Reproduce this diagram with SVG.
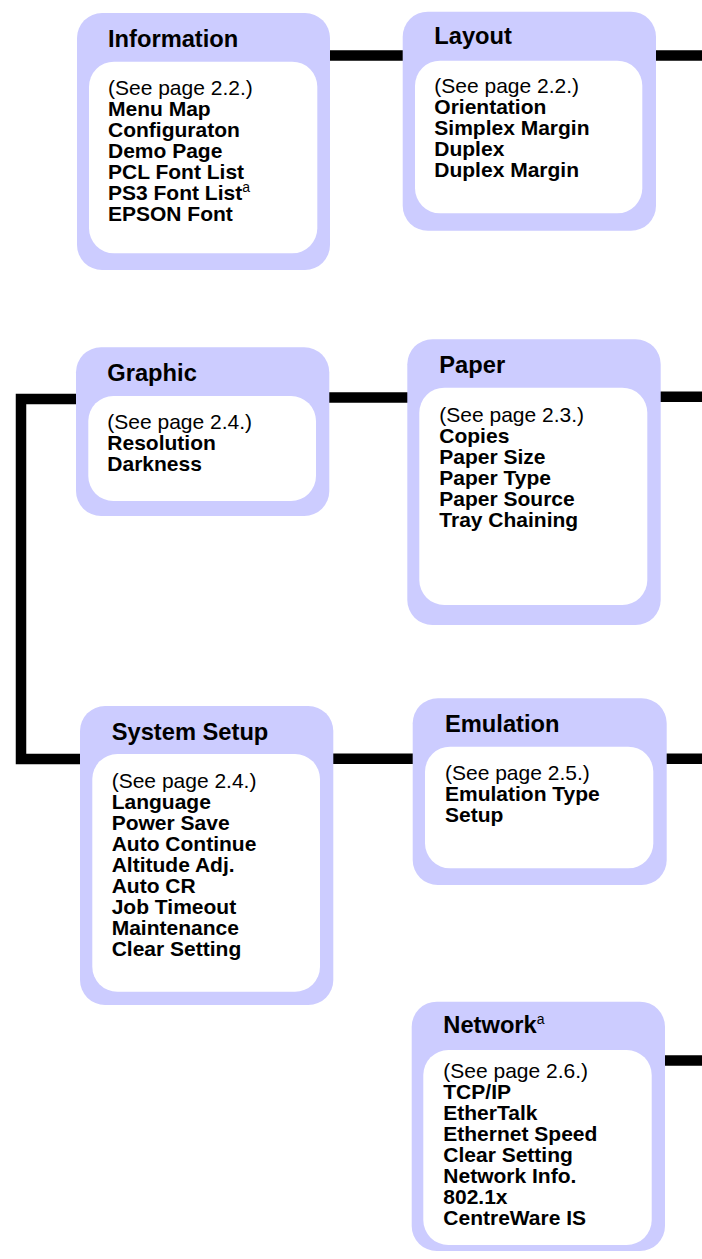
<svg xmlns="http://www.w3.org/2000/svg" width="702" height="1259" viewBox="0 0 702 1259">
<style>
.outer{fill:#CCCCFF}
.inner{fill:#FFFFFF}
.title{font-family:"Liberation Sans",Arial,sans-serif;font-weight:bold;font-size:23.7px;fill:#000}
.ref{font-family:"Liberation Sans",Arial,sans-serif;font-size:21px;fill:#000}
.item{font-family:"Liberation Sans",Arial,sans-serif;font-weight:bold;font-size:21px;fill:#000}
.sup{font-family:"Liberation Sans",Arial,sans-serif;font-weight:normal;font-size:14px;fill:#000}
.conn{fill:none;stroke:#000;stroke-width:10.5;stroke-linejoin:miter;stroke-linecap:butt}
</style>
<rect width="702" height="1259" fill="#FFFFFF"/>
<g id="connectors">
<line class="conn" x1="328" y1="55.5" x2="405" y2="55.5"/>
<line class="conn" x1="654" y1="55.5" x2="702" y2="55.5"/>
<path class="conn" d="M78,399 H21 V759 H82"/>
<line class="conn" x1="327" y1="397.5" x2="409" y2="397.5"/>
<line class="conn" x1="658" y1="396.7" x2="702" y2="396.7"/>
<line class="conn" x1="331" y1="758.7" x2="415" y2="758.7"/>
<line class="conn" x1="664" y1="758.7" x2="702" y2="758.7"/>
<line class="conn" x1="663" y1="1060.5" x2="702" y2="1060.5"/>
</g>
<g id="information">
<rect class="outer" x="77" y="13" width="253" height="257" rx="25"/>
<rect class="inner" x="89" y="61.7" width="228.3" height="191.6" rx="25"/>
<text class="title" x="108" y="46.7">Information</text>
<text class="ref" x="108" y="95">(See page 2.2.)</text>
<text class="item" x="108" y="116">Menu Map</text>
<text class="item" x="108" y="137">Configuraton</text>
<text class="item" x="108" y="158">Demo Page</text>
<text class="item" x="108" y="179">PCL Font List</text>
<text class="item" x="108" y="200">PS3 Font List<tspan class="sup" dy="-8">a</tspan></text>
<text class="item" x="108" y="221">EPSON Font</text>
</g>
<g id="layout">
<rect class="outer" x="402.7" y="11.7" width="253.3" height="219" rx="25"/>
<rect class="inner" x="415" y="60.7" width="227.3" height="152.6" rx="25"/>
<text class="title" x="434.3" y="44.3">Layout</text>
<text class="ref" x="434.3" y="92.7">(See page 2.2.)</text>
<text class="item" x="434.3" y="113.7">Orientation</text>
<text class="item" x="434.3" y="134.7">Simplex Margin</text>
<text class="item" x="434.3" y="155.7">Duplex</text>
<text class="item" x="434.3" y="176.7">Duplex Margin</text>
</g>
<g id="graphic">
<rect class="outer" x="76" y="347.3" width="253.3" height="168.7" rx="25"/>
<rect class="inner" x="88.3" y="396" width="227.7" height="105" rx="25"/>
<text class="title" x="107.3" y="380.7">Graphic</text>
<text class="ref" x="107.3" y="429.3">(See page 2.4.)</text>
<text class="item" x="107.3" y="450.3">Resolution</text>
<text class="item" x="107.3" y="471.3">Darkness</text>
</g>
<g id="paper">
<rect class="outer" x="407.3" y="339.3" width="253.4" height="285.7" rx="25"/>
<rect class="inner" x="419.3" y="387.7" width="228" height="217.3" rx="25"/>
<text class="title" x="439.3" y="373.3">Paper</text>
<text class="ref" x="439.3" y="421.7">(See page 2.3.)</text>
<text class="item" x="439.3" y="442.7">Copies</text>
<text class="item" x="439.3" y="463.7">Paper Size</text>
<text class="item" x="439.3" y="484.7">Paper Type</text>
<text class="item" x="439.3" y="505.7">Paper Source</text>
<text class="item" x="439.3" y="526.7">Tray Chaining</text>
</g>
<g id="system-setup">
<rect class="outer" x="80" y="706" width="253.3" height="299" rx="25"/>
<rect class="inner" x="92.3" y="754" width="227.7" height="237.7" rx="25"/>
<text class="title" x="111.7" y="740">System Setup</text>
<text class="ref" x="111.7" y="788.3">(See page 2.4.)</text>
<text class="item" x="111.7" y="809.3">Language</text>
<text class="item" x="111.7" y="830.3">Power Save</text>
<text class="item" x="111.7" y="851.3">Auto Continue</text>
<text class="item" x="111.7" y="872.3">Altitude Adj.</text>
<text class="item" x="111.7" y="893.3">Auto CR</text>
<text class="item" x="111.7" y="914.3">Job Timeout</text>
<text class="item" x="111.7" y="935.3">Maintenance</text>
<text class="item" x="111.7" y="956.3">Clear Setting</text>
</g>
<g id="emulation">
<rect class="outer" x="412.7" y="698.3" width="254" height="186.7" rx="25"/>
<rect class="inner" x="425" y="746.7" width="228.3" height="121.6" rx="25"/>
<text class="title" x="445" y="731.7">Emulation</text>
<text class="ref" x="445" y="780">(See page 2.5.)</text>
<text class="item" x="445" y="801">Emulation Type</text>
<text class="item" x="445" y="822">Setup</text>
</g>
<g id="network">
<rect class="outer" x="411.7" y="1001.7" width="253.3" height="249.3" rx="25"/>
<rect class="inner" x="423.3" y="1050" width="228.4" height="195" rx="25"/>
<text class="title" x="443.3" y="1033.3">Network<tspan class="sup" font-size="15px" dy="-9">a</tspan></text>
<text class="ref" x="443.3" y="1078.3">(See page 2.6.)</text>
<text class="item" x="443.3" y="1099.3">TCP/IP</text>
<text class="item" x="443.3" y="1120.3">EtherTalk</text>
<text class="item" x="443.3" y="1141.3">Ethernet Speed</text>
<text class="item" x="443.3" y="1162.3">Clear Setting</text>
<text class="item" x="443.3" y="1183.3">Network Info.</text>
<text class="item" x="443.3" y="1204.3">802.1x</text>
<text class="item" x="443.3" y="1225.3">CentreWare IS</text>
</g>
</svg>
